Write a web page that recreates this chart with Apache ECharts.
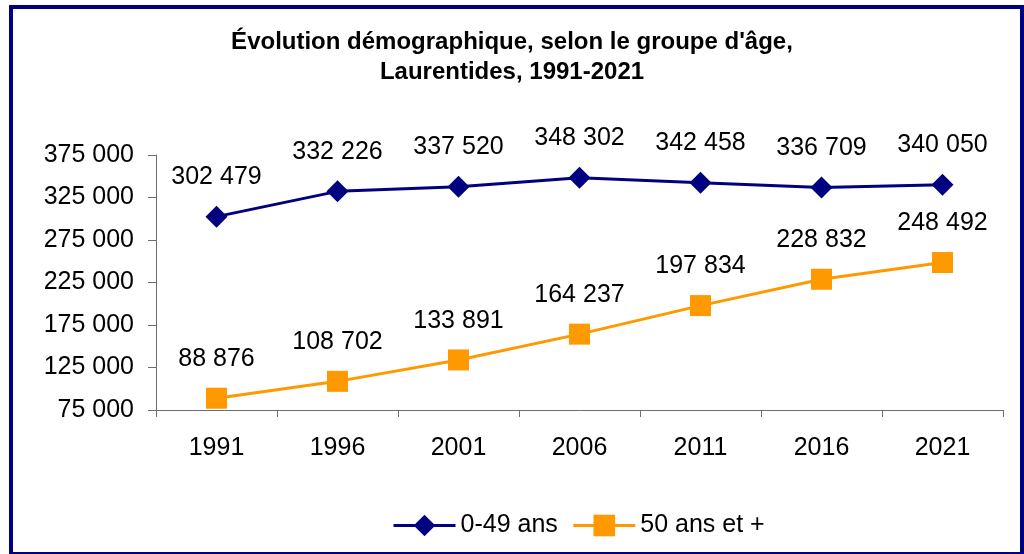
<!DOCTYPE html>
<html>
<head>
<meta charset="utf-8">
<script src="https://cdn.jsdelivr.net/npm/echarts@6/dist/echarts.min.js"></script>
<style>
html,body{margin:0;padding:0;background:#fff;}
#chart{width:1024px;height:554px;}
</style>
</head>
<body>
<div id="chart"></div>
<script>
const titleLines = ["Évolution démographique, selon le groupe d'âge,", "Laurentides, 1991-2021"];
const categories = ["1991", "1996", "2001", "2006", "2011", "2016", "2021"];
const seriesNames = ["0-49 ans", "50 ans et +"];
const young = [302479, 332226, 337520, 348302, 342458, 336709, 340050];
const older = [88876, 108702, 133891, 164237, 197834, 228832, 248492];
const yTicks = [75000, 125000, 175000, 225000, 275000, 325000, 375000];

const FONT = '"Liberation Sans", Arial, sans-serif';
const fmt = v => String(Math.round(v)).replace(/\B(?=(\d{3})+(?!\d))/g, ' ');

const chart = echarts.init(document.getElementById('chart'), null, {renderer: 'canvas'});
const labelCfg = {
  show: true, position: 'top', distance: 16,
  fontFamily: FONT, fontSize: 25, color: '#000',
  formatter: p => fmt(p.value)
};
chart.setOption({
  animation: false,
  backgroundColor: '#fff',
  textStyle: {fontFamily: FONT},
  title: {
    text: titleLines.join('\n'),
    left: 'center', top: 27, padding: 0,
    textStyle: {fontFamily: FONT, fontSize: 24, fontWeight: 'bold', color: '#000', lineHeight: 30}
  },
  graphic: [{
    type: 'rect', silent: true, z: 100,
    shape: {x: 11, y: 7, width: 1011, height: 547},
    style: {fill: 'none', stroke: '#000080', lineWidth: 4}
  }],
  legend: {
    left: 387, top: 508,
    itemWidth: 62, itemHeight: 27, itemGap: 14,
    lineStyle: {width: 3},
    textStyle: {fontFamily: FONT, fontSize: 25, color: '#000'},
    data: seriesNames
  },
  grid: {left: 156, right: 21, top: 155, bottom: 144, containLabel: false},
  xAxis: {
    type: 'category', data: categories, boundaryGap: true,
    axisLine: {lineStyle: {color: '#6e6e6e', width: 1}},
    axisTick: {show: true, length: 7, inside: false, lineStyle: {color: '#6e6e6e'}},
    axisLabel: {fontFamily: FONT, fontSize: 25, color: '#000', margin: 26},
    splitLine: {show: false}
  },
  yAxis: {
    type: 'value', min: yTicks[0], max: yTicks[yTicks.length - 1],
    axisLine: {show: true, lineStyle: {color: '#6e6e6e', width: 1}},
    axisTick: {show: true, length: 8, customValues: yTicks, lineStyle: {color: '#6e6e6e'}},
    axisLabel: {fontFamily: FONT, fontSize: 25, color: '#000', margin: 22, customValues: yTicks, formatter: fmt},
    splitLine: {show: false}
  },
  series: [
    {
      name: seriesNames[0], type: 'line', data: young,
      symbol: 'diamond', symbolSize: 22,
      lineStyle: {color: '#000080', width: 3},
      itemStyle: {color: '#000080'},
      label: labelCfg
    },
    {
      name: seriesNames[1], type: 'line', data: older,
      symbol: 'rect', symbolSize: 21,
      lineStyle: {color: '#FF9900', width: 3},
      itemStyle: {color: '#FF9900'},
      label: labelCfg
    }
  ]
});
</script>
</body>
</html>
